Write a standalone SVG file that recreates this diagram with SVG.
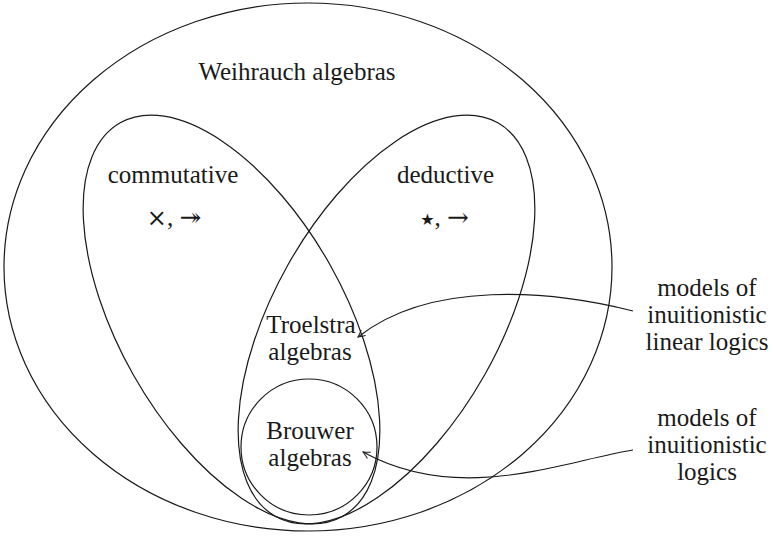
<svg xmlns="http://www.w3.org/2000/svg" width="773" height="537" viewBox="0 0 773 537">
<defs>
<style>
.ln{fill:none;stroke:#1a1a1a;stroke-width:1.2}
text{font-family:"Liberation Serif","DejaVu Serif",serif;font-size:25px;fill:#1a1a1a;text-anchor:middle}
.ar{font-family:"DejaVu Serif",serif;font-size:26px}
.x{font-family:"DejaVu Serif",serif;font-size:24px}
.st{font-family:"DejaVu Sans",sans-serif;font-size:16px}
</style>
<marker id="ah" markerUnits="userSpaceOnUse" markerWidth="14" markerHeight="14" viewBox="-8 -7 10 14" refX="0" refY="0" orient="auto">
<path d="M-7,-3.5 Q-2,-0.8 0,0 Q-2,0.8 -7,3.5" fill="none" stroke="#1a1a1a" stroke-width="1"/>
</marker>
</defs>
<g id="weihrauch">
<ellipse class="ln" cx="308" cy="267" rx="304" ry="264"/>
<text x="297" y="80">Weihrauch algebras</text>
</g>
<g id="commutative">
<ellipse class="ln" cx="231.5" cy="319.5" rx="226" ry="112.7" transform="rotate(60.5 231.5 319.5)"/>
<text x="173" y="183">commutative</text>
<text x="174" y="226"><tspan class="x">×</tspan>, <tspan class="ar">↠</tspan></text>
</g>
<g id="deductive">
<ellipse class="ln" cx="386.5" cy="319.5" rx="226" ry="112.7" transform="rotate(-60.5 386.5 319.5)"/>
<text x="445.5" y="183">deductive</text>
<text x="444.5" y="226"><tspan class="st" dy="-1">★</tspan><tspan dy="1">, </tspan><tspan class="ar">→</tspan></text>
</g>
<g id="troelstra">
<text x="311" y="333">Troelstra</text>
<text x="310" y="360">algebras</text>
</g>
<g id="brouwer">
<circle class="ln" cx="309" cy="447" r="68"/>
<text x="310" y="439">Brouwer</text>
<text x="310" y="466">algebras</text>
</g>
<g id="label-linear">
<text x="707" y="296">models of</text>
<text x="707" y="323">inuitionistic</text>
<text x="707" y="350">linear logics</text>
</g>
<g id="label-intuitionistic">
<text x="707" y="426">models of</text>
<text x="707" y="453">inuitionistic</text>
<text x="707" y="480">logics</text>
</g>
<g id="connectors">
<path class="ln" d="M633,311 C550,290 430,280 358,337" marker-end="url(#ah)"/>
<path class="ln" d="M633,450 C560,462 460,505 363,452" marker-end="url(#ah)"/>
</g>
</svg>
